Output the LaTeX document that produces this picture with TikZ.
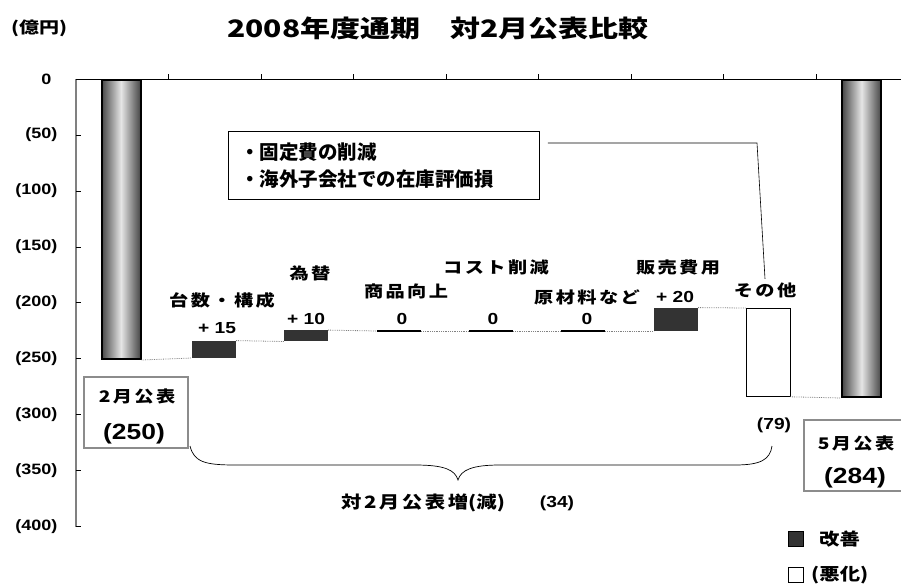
\documentclass[tikz,border=0pt]{standalone}
\usepackage{fontspec}
\usetikzlibrary{positioning}
\setmainfont{Liberation Sans}[FakeStretch=1.2]
\newfontfamily\jp{Noto Sans CJK JP}
\newfontfamily\jps{Noto Sans CJK JP}[FakeStretch=1.2]
\newfontfamily\jpw{Noto Sans CJK JP}[FakeStretch=1.2,LetterSpace=15]
\newfontfamily\jpt{Noto Sans CJK JP}[FakeStretch=1.25]
\definecolor{good}{HTML}{333333}
\definecolor{frame}{HTML}{8C8C8C}

\begin{document}
\begin{tikzpicture}[x=1pt,y=-1pt,
    bar/.style={draw=black, line width=2pt, left color=gray!55!black, right color=gray!55!black, middle color=gray!20, minimum width=39pt, inner sep=0pt, anchor=north},
    up/.style={fill=good, minimum width=44pt, inner sep=0pt, anchor=south},
    down/.style={draw=black, line width=0.8pt, fill=white, minimum width=44pt, inner sep=0pt, anchor=north},
    flat/.style={fill=black, minimum width=44pt, minimum height=2pt, inner sep=0pt},
    lvl/.style={gray, densely dotted, line width=0.8pt},
    ylab/.style={font=\bfseries\fontsize{15}{17}\selectfont, anchor=east},
    cat/.style={font=\jpw\bfseries\fontsize{16}{18}\selectfont},
    val/.style={font=\bfseries\fontsize{16}{18}\selectfont},
    pub/.style={draw=frame, line width=2pt, inner sep=0pt, minimum height=71pt},
    pubtop/.style={font=\jpw\bfseries\fontsize{16}{18}\selectfont},
    pubnum/.style={font=\bfseries\fontsize{22}{24}\selectfont},
    leg/.style={font=\jps\bfseries\fontsize{17}{19}\selectfont},
    key/.style={minimum size=15pt, inner sep=0pt, draw=black}
  ]
  \useasboundingbox (0,0) rectangle (901,588);

  % title
  \node[font=\jpt\bfseries\fontsize{24}{27}\selectfont] (title) at (438,28) {2008年度通期　対2月公表比較};
  \node[font=\jpt\bfseries\fontsize{16}{18}\selectfont] (unit) at (39,28) {(億円)};

  % axes
  \draw[gray, line width=1.2pt] (76,79) -- (76,527);
  \draw[line width=0.8pt] (76,79) -- (901,79);
  \foreach \k in {0,...,8} {
    \pgfmathtruncatemacro\n{50*\k}
    \draw (76,{79+55.9*\k}) -- (81,{79+55.9*\k});
    \node[ylab] (y\k) at (61,{79+55.9*\k}) {\ifnum\k=0 0\hphantom{)}\else(\n)\fi};
  }
  \foreach \k in {1,...,8}
    \draw ({76+92.5*\k},79) -- ++(0,-5);

  % bars
  \node[bar, minimum height=279pt] (b0) at (121,79) {};
  \node[up, minimum height=17pt] (b1) at (214,358) {};
  \node[up, minimum height=11pt] (b2) at (306,341.5) {};
  \node[flat] (b3) at (399,331) {};
  \node[flat] (b4) at (491,331) {};
  \node[flat] (b5) at (583,331) {};
  \node[up, minimum height=23pt] (b6) at (676,331) {};
  \node[down, minimum height=88pt] (b7) at (768,308) {};
  \node[bar, minimum height=317pt] (b8) at (861.5,79) {};

  \draw[lvl] (b0.south east) -- (b1.south west);
  \draw[lvl] (b1.north east) -- (b2.south west);
  \draw[lvl] (b2.north east) -- (b3.west);
  \draw[lvl] (b3.east) -- (b4.west);
  \draw[lvl] (b4.east) -- (b5.west);
  \draw[lvl] (b5.east) -- (b6.south west);
  \draw[lvl] (b6.north east) -- (b7.north west);
  \draw[lvl] (b7.south east) -- (b8.south west);

  % labels
  \node[cat] (l1) at (222,300) {台数・構成};
  \node[val] (v1) at (217,328) {+ 15};
  \node[cat] (l2) at (310,273) {為替};
  \node[val] (v2) at (306,319) {+ 10};
  \node[cat] (l3) at (406,291) {商品向上};
  \node[val] (v3) at (402,319) {0};
  \node[cat] (l4) at (496,267) {コスト削減};
  \node[val] (v4) at (493,319) {0};
  \node[cat] (l5) at (587,297) {原材料など};
  \node[val] (v5) at (587,319) {0};
  \node[cat] (l6) at (678,267) {販売費用};
  \node[val] (v6) at (675,297) {+ 20};
  \node[cat] (l7) at (765,290) {その他};
  \node[val] (v7) at (774,425) {(79)};

  % note
  \node[draw, line width=0.8pt, anchor=north west, minimum height=68pt, text width=287pt, inner xsep=12pt, align=left,
        font=\jp\bfseries\fontsize{19.5}{27}\selectfont] (memo) at (228,131) {・固定費の削減\\・海外子会社での在庫評価損};
  \coordinate (bend) at (757,143);
  \draw[line width=0.6pt] ([xshift=8pt]memo.east |- bend) -- (bend) -- (l7.north);

  % announced values
  \node[pub, minimum width=104pt] (feb) at (136,412) {};
  \node[pubtop] (febt) at (137,396) {2月公表};
  \node[pubnum] (febn) at (134,434) {(250)};
  \node[pub, minimum width=100pt] (may) at (854,455) {};
  \node[pubtop] (mayt) at (856,443) {5月公表};
  \node[pubnum] (mayn) at (855,478) {(284)};

  % brace
  \coordinate (bl) at (190,446);
  \coordinate (tip) at (458,480);
  \coordinate (br) at (772,446);
  \draw[line width=0.7pt] (bl) .. controls (194,462) and (205,465) .. (235,465) -- (415,465)
    .. controls (445,465) and (455,470) .. (tip) .. controls (461,470) and (472,465) .. (500,465)
    -- (735,465) .. controls (760,465) and (770,460) .. (br);
  \node[font=\jpw\bfseries\fontsize{17}{19}\selectfont] (diff) at (423,503) {対2月公表増{\jps(}減{\jps)}};
  \node[val] (dv) at (557,503) {(34)};

  % legend
  \node[key, fill=good] (k1) at (796,539) {};
  \node[key, fill=white] (k2) at (796,575) {};
  \node[leg, right=12pt of k1] (k1t) {改善};
  \node[leg, right=4pt of k2] (k2t) {(悪化)};
\end{tikzpicture}
\end{document}
